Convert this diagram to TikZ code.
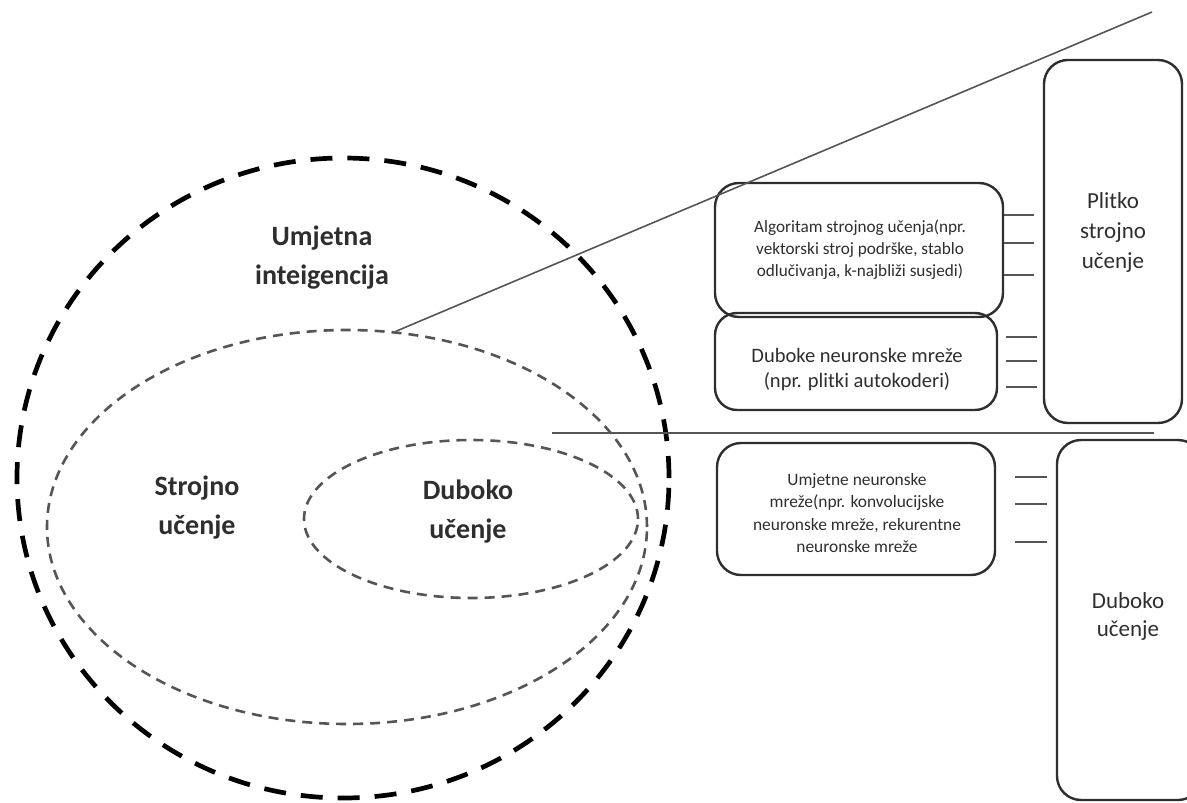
\documentclass[tikz,border=0pt]{standalone}
\usepackage{fontspec}
\setmainfont{Carlito}
\usetikzlibrary{shapes.geometric}
\definecolor{ink}{HTML}{2E2E2E}
\definecolor{lineg}{HTML}{555555}
\tikzset{
  outerring/.style={ellipse, draw=black, line width=4.7pt, dash pattern=on 22pt off 15pt, inner sep=0pt},
  innerring/.style={ellipse, draw=lineg, line width=2.6pt, dash pattern=on 10pt off 7pt, inner sep=0pt},
  biglabel/.style={font=\fontsize{28}{39}\selectfont\bfseries, text=ink, align=center, inner sep=0pt},
  rbox/.style={draw=ink, line width=2.4pt, rounded corners=24pt, inner sep=0pt},
  boxtext/.style={text=ink, align=center, inner sep=0pt},
  tick/.style={draw=lineg, line width=1.8pt},
  thinline/.style={draw=lineg, line width=1.6pt}
}
\begin{document}
\begin{tikzpicture}[x=1pt,y=-1pt]
\useasboundingbox (0,0) rectangle (1187,803);
% rings
\node[outerring, minimum width=652pt, minimum height=640pt] (ai) at (343,478) {};
\node[innerring, minimum width=600pt, minimum height=394pt] (ml) at (347,527) {};
\node[innerring, minimum width=334pt, minimum height=158pt] (dl) at (471,519) {};
% ring labels
\node[biglabel] (tai) at (322,258) {Umjetna\\inteigencija};
\node[biglabel] (tml) at (197,508) {Strojno\\učenje};
\node[biglabel] (tdl) at (468,512) {Duboko\\učenje};
% boxes
\node[rbox, minimum width=288pt, minimum height=134pt] (bA) at (859,250) {};
\node[rbox, minimum width=282pt, minimum height=97pt, rounded corners=22pt] (bB) at (856,361.5) {};
\node[rbox, minimum width=278pt, minimum height=132pt] (bC) at (856,509) {};
\node[rbox, minimum width=138pt, minimum height=363pt] (bD) at (1113,241.5) {};
\node[rbox, minimum width=145pt, minimum height=360pt] (bE) at (1129.5,620) {};
% box texts
\node[boxtext, font=\fontsize{17.2}{22}\selectfont] (tA) at (860,250) {Algoritam strojnog učenja(npr.\\vektorski stroj podrške, stablo\\odlučivanja, k-najbliži susjedi)};
\node[boxtext, font=\fontsize{20.5}{25}\selectfont] (tB) at (857,370) {Duboke neuronske mreže\\(npr. plitki autokoderi)};
\node[boxtext, font=\fontsize{17.4}{22.3}\selectfont] (tC) at (857,513) {Umjetne neuronske\\mreže(npr. konvolucijske\\neuronske mreže, rekurentne\\neuronske mreže};
\node[boxtext, font=\fontsize{23}{30}\selectfont] (tD) at (1113,232) {Plitko\\strojno\\učenje};
\node[boxtext, font=\fontsize{23}{28}\selectfont] (tE) at (1128,616) {Duboko\\učenje};
% connector lines
\coordinate (lend) at (1152,12);
\draw[thinline] (ml.76.7) -- (lend);
\coordinate (hl) at (552,433);
\coordinate (hr) at (1154,433);
\draw[thinline, line width=2pt] (hl) -- (hr);
% tick marks
\foreach \y in {215,243,275} \draw[tick] (1004,\y) -- (1034,\y);
\foreach \y in {337,361,387} \draw[tick] (1006,\y) -- (1037,\y);
\foreach \y in {477,504,542} \draw[tick] (1015,\y) -- (1047,\y);
\end{tikzpicture}
\end{document}
